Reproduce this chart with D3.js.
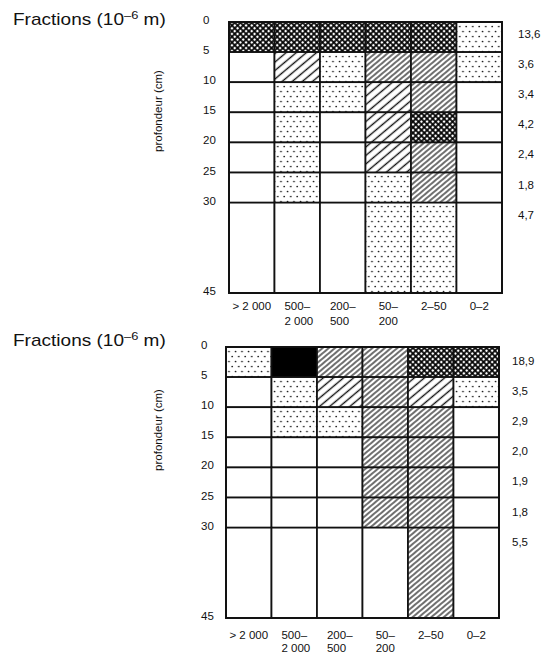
<!DOCTYPE html>
<html><head><meta charset="utf-8">
<script src="https://cdn.jsdelivr.net/npm/d3@7"></script>
<style>body{margin:0;background:#fff}svg{display:block}text{font-family:"Liberation Sans",Arial,sans-serif;fill:#111}</style>
</head><body>
<svg id="c" width="541" height="656"></svg>
<script>
// ---- data ----
const fractionKeys = ["gt2000","500-2000","200-500","50-200","2-50","0-2"];
const fractionLabels = [["> 2 000"],["500–","2 000"],["200–","500"],["50–","200"],["2–50"],["0–2"]];
const depthTicks = [0,5,10,15,20,25,30,45];
const layerTop = [0,5,10,15,20,25,30];
const layerBottom = [5,10,15,20,25,30,45];
// pattern classes: 0 blank, 1 dots, 2 wide hatch, 3 dense hatch, 4 cross-hatch, 5 solid
const patternsTop = [
  [4,4,4,4,4,1],
  [0,2,1,3,3,1],
  [0,1,1,2,3,0],
  [0,1,0,2,4,0],
  [0,1,0,2,3,0],
  [0,1,0,1,3,0],
  [0,0,0,1,1,0]
];
const patternsBottom = [
  [1,5,3,3,4,4],
  [0,1,2,3,2,1],
  [0,1,1,3,3,0],
  [0,0,0,3,3,0],
  [0,0,0,3,3,0],
  [0,0,0,3,3,0],
  [0,0,0,0,3,0]
];
const totalsTop = ["13,6","3,6","3,4","4,2","2,4","1,8","4,7"];
const totalsBottom = ["18,9","3,5","2,9","2,0","1,9","1,8","5,5"];

// ---- drawing ----
const svg = d3.select("#c");
const defs = svg.append("defs");
// dots
const pd = defs.append("pattern").attr("id","p1").attr("patternUnits","userSpaceOnUse").attr("width",6.5).attr("height",10);
pd.append("rect").attr("width",6.5).attr("height",10).attr("fill","#fff");
pd.append("circle").attr("cx",1.5).attr("cy",1.5).attr("r",0.85).attr("fill","#111");
pd.append("circle").attr("cx",4.75).attr("cy",6.5).attr("r",0.85).attr("fill","#111");
function hatch(id, sp, sw){
  const p = defs.append("pattern").attr("id",id).attr("patternUnits","userSpaceOnUse")
    .attr("width",10).attr("height",sp).attr("patternTransform","rotate(-40)");
  p.append("rect").attr("width",10).attr("height",sp).attr("fill","#fff");
  p.append("line").attr("x1",0).attr("x2",10).attr("y1",sp/2).attr("y2",sp/2).attr("stroke","#111").attr("stroke-width",sw);
}
hatch("p2",6.5,1.4);
hatch("p3",4,1.2);
const pc = defs.append("pattern").attr("id","p4").attr("patternUnits","userSpaceOnUse")
  .attr("width",4).attr("height",4).attr("patternTransform","rotate(-45)");
pc.append("rect").attr("width",4).attr("height",4).attr("fill","#fff");
pc.append("line").attr("x1",0).attr("x2",4).attr("y1",2).attr("y2",2).attr("stroke","#000").attr("stroke-width",1.7);
pc.append("line").attr("y1",0).attr("y2",4).attr("x1",2).attr("x2",2).attr("stroke","#000").attr("stroke-width",1.7);
const fills = ["#fff","url(#p1)","url(#p2)","url(#p3)","url(#p4)","#000"];

function panel(cfg, pats, totals){
  const g = svg.append("g");
  const x = d3.scaleBand().domain(fractionKeys).range([cfg.x0,cfg.x1]);
  const y = d3.scaleLinear().domain([0,45]).range([cfg.y0,cfg.y1]);
  // title
  const t = g.append("text").attr("transform",`translate(${cfg.tx},${cfg.ty}) scale(1.12,1)`).style("font-size","17px");
  t.append("tspan").text("Fractions (10");
  t.append("tspan").attr("dy",-6).style("font-size","11.5px").text("–6");
  t.append("tspan").attr("dy",6).text(" m)");
  // y label
  g.append("text").attr("transform",`translate(${cfg.ylx},${cfg.yly}) rotate(-90)`)
    .attr("text-anchor","middle").style("font-size","11.5px").text("profondeur (cm)");
  // cells
  layerTop.forEach((d0,i)=>{
    fractionKeys.forEach((k,j)=>{
      g.append("rect").attr("x",x(k)).attr("y",y(d0)).attr("width",x.bandwidth())
        .attr("height",y(layerBottom[i])-y(d0)).attr("fill",fills[pats[i][j]])
        .attr("stroke","#111").attr("stroke-width",1.7);
    });
    g.append("text").attr("x",cfg.totX).attr("y",y(d0)+cfg.totDy).style("font-size","11.5px").text(totals[i]);
  });
  g.append("rect").attr("x",cfg.x0).attr("y",cfg.y0).attr("width",cfg.x1-cfg.x0).attr("height",cfg.y1-cfg.y0)
    .attr("fill","none").attr("stroke","#111").attr("stroke-width",1.9);
  // depth ticks
  g.selectAll(null).data(depthTicks).enter().append("text")
    .attr("x",cfg.tickX).attr("y",d=>y(d)+2).style("font-size","11.5px").text(d=>d);
  // fraction labels
  fractionKeys.forEach((k,j)=>{
    const lab = fractionLabels[j];
    const cx = x(k)+x.bandwidth()/2;
    const t1 = g.append("text").attr("x",cx).attr("y",cfg.xl1).attr("text-anchor","middle").style("font-size","11.5px").text(lab[0]);
    if(lab.length>1){
      const bb = t1.node().getBBox();
      g.append("text").attr("x",bb.x).attr("y",cfg.xl2).style("font-size","11.5px").text(lab[1]);
    }
  });
}

panel({x0:229,x1:502,y0:22,y1:293,tx:13,ty:25,ylx:162,yly:111,tickX:203,totX:518,totDy:16,xl1:310,xl2:325}, patternsTop, totalsTop);
panel({x0:226,x1:499,y0:347,y1:618,tx:13,ty:346,ylx:162,yly:430,tickX:201,totX:512,totDy:18,xl1:639,xl2:652}, patternsBottom, totalsBottom);
</script>
</body></html>
